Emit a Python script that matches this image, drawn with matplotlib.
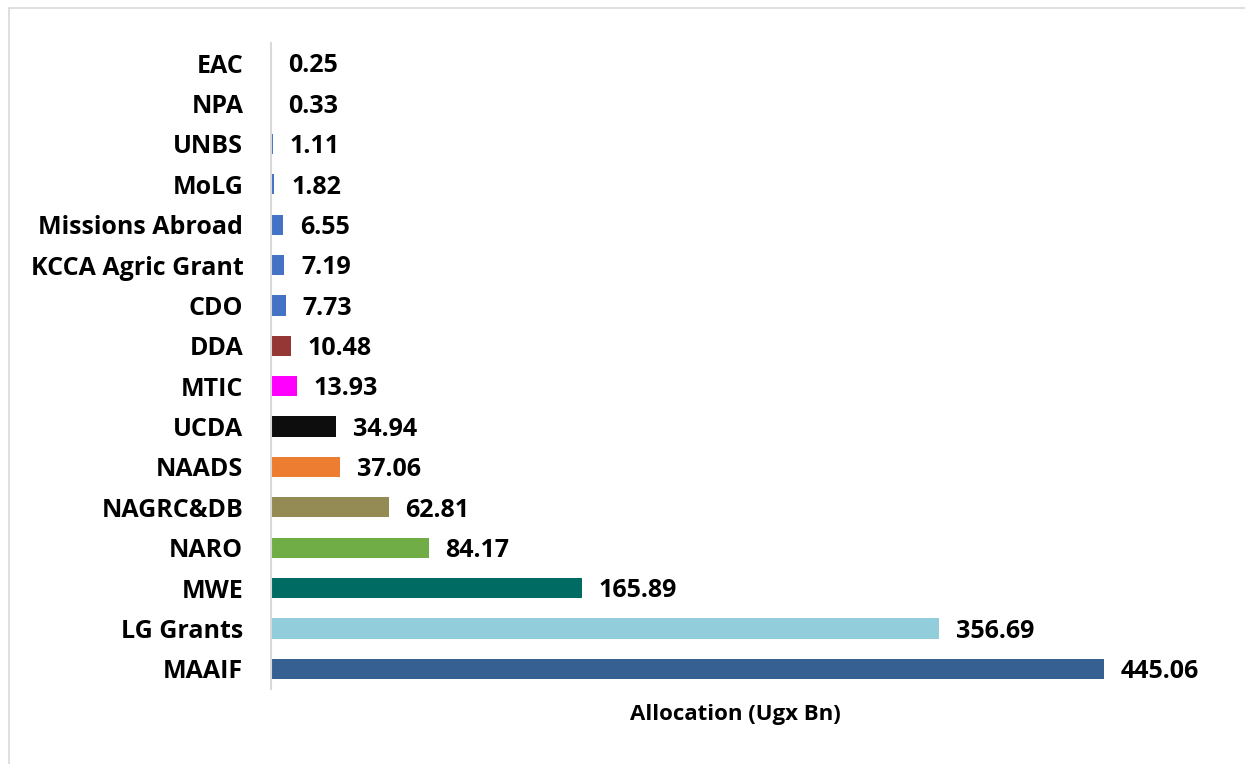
import matplotlib.pyplot as plt
from matplotlib.patches import Rectangle

# Data (top to bottom as in the chart)
agencies = ["EAC", "NPA", "UNBS", "MoLG", "Missions Abroad", "KCCA Agric Grant",
            "CDO", "DDA", "MTIC", "UCDA", "NAADS", "NAGRC&DB", "NARO", "MWE",
            "LG Grants", "MAAIF"]
allocation = [0.25, 0.33, 1.11, 1.82, 6.55, 7.19, 7.73, 10.48, 13.93, 34.94,
              37.06, 62.81, 84.17, 165.89, 356.69, 445.06]
colors = ["#4472C4"] * 7 + ["#953735", "#FF00FF", "#0D0D0D", "#ED7D31",
                            "#948A54", "#70AD47", "#006B63", "#92CDDC", "#376092"]

plt.rcParams['font.family'] = ['Open Sans', 'DejaVu Sans']

fig = plt.figure(figsize=(12.45, 7.64), dpi=100)
ax = fig.add_axes([0.2177, 0.0982, 0.746, 0.8455])

y = list(range(len(agencies)))
ax.barh(y, allocation, height=0.5, color=colors)
ax.set_ylim(len(agencies) - 0.5, -0.5)
ax.set_xlim(0, 496)

# value labels to the right of each bar
for yi, v in zip(y, allocation):
    ax.annotate(f"{v:.2f}", (v, yi), xytext=(12, -2), textcoords="offset points",
                ha="left", va="center", fontsize=18, fontweight="bold")

ax.set_yticks(y)
ax.set_yticklabels(agencies, fontsize=18, fontweight="bold")
ax.tick_params(axis="y", length=0, pad=20)
ax.set_xticks([])
ax.set_xlabel("Allocation (Ugx Bn)", fontsize=16, fontweight="bold", labelpad=11)

for s in ["top", "right", "bottom"]:
    ax.spines[s].set_visible(False)
ax.spines["left"].set_color("#D9D9D9")
ax.spines["left"].set_linewidth(1.5)

# outer chart border
fig.patches.append(Rectangle((9 / 1245, -0.01), 1.02, 1 - 8 / 764 + 0.01,
                             transform=fig.transFigure, fill=False,
                             edgecolor="#D9D9D9", linewidth=1.2))

fig.savefig("out.png", dpi=100)
